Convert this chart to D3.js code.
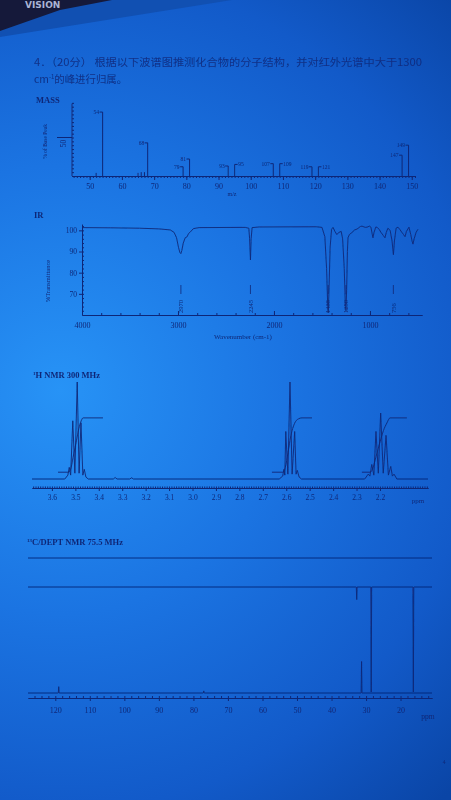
<!DOCTYPE html>
<html>
<head>
<meta charset="utf-8">
<script src="https://cdn.jsdelivr.net/npm/d3@7"></script>
<style>
  html, body { margin: 0; padding: 0; background: #1461d0; }
  svg { display: block; }
</style>
</head>
<body>
<svg id="page" width="451" height="800"></svg>
<script>
// ---- data ----
const questionLine1 = '4．（20分） 根据以下波谱图推测化合物的分子结构，并对红外光谱中大于1300';
const questionLine2 = '的峰进行归属。';

// mass spectrum
const massMz  = [52, 54, 65, 66, 67, 68, 79, 81, 93, 95, 107, 109, 119, 121, 147, 149];
const massPct = [4, 83, 4, 5, 5, 43, 12, 22, 13, 15, 16, 16, 12, 12, 27, 40];
const massLabelMz   = [54, 68, 79, 81, 93, 95, 107, 109, 119, 121, 147, 149];
const massLabelSide = ['L', 'L', 'L', 'L', 'L', 'R', 'L', 'R', 'L', 'R', 'L', 'L'];
const massTicks = [50, 60, 70, 80, 90, 100, 110, 120, 130, 140, 150];

// IR spectrum [wavenumber, %T]
const irTrace = [
  [4000, 101.3], [3700, 101.2], [3400, 101], [3200, 100.7], [3080, 100.2], [3040, 99],
  [3015, 96.5], [2995, 92], [2980, 89.5], [2970, 89], [2960, 90.5], [2945, 94], [2925, 96.5],
  [2905, 97], [2890, 98.5], [2870, 99.3], [2840, 100.8], [2780, 101.3], [2300, 101.4],
  [2262, 101], [2254, 96], [2245, 86], [2238, 96], [2228, 101.3], [2150, 101.6], [1560, 101.7],
  [1500, 101.4], [1470, 97], [1452, 82], [1440, 64], [1435, 61], [1428, 70], [1415, 92],
  [1400, 100.5], [1385, 101.4], [1365, 99.5], [1345, 98], [1325, 99], [1300, 99.5], [1285, 96],
  [1268, 82], [1256, 64], [1250, 62], [1243, 72], [1235, 90], [1229, 96.5], [1215, 98],
  [1187, 99], [1160, 100.2], [1135, 100.6], [1100, 101.8], [1083, 102], [1050, 101.4],
  [1031, 101.5], [1005, 102], [990, 101.5], [978, 98.5], [969, 96.5], [958, 99], [940, 101.5],
  [927, 101.5], [905, 100.5], [885, 99], [860, 97.5], [844, 96.5], [830, 99], [813, 101],
  [790, 100], [770, 95], [756, 88.5], [745, 95], [728, 101], [708, 101.5], [690, 100.5],
  [667, 99], [650, 98], [635, 97], [620, 99.5], [594, 101.5], [575, 98], [562, 95],
  [552, 93.5], [540, 96], [520, 99], [500, 100.5]
];
const irPeakLabels = [2970, 2245, 1435, 1250, 756];
const irXTicks = [4000, 3000, 2000, 1000];
const irYTicks = [100, 90, 80, 70];

// 1H NMR [ppm, intensity]
const h1Triplet35 = [
  [3.545, 0], [3.532, 4], [3.526, 12], [3.520, 4], [3.511, 60], [3.502, 6], [3.492, 100],
  [3.484, 6], [3.476, 58], [3.468, 4], [3.462, 10], [3.455, 2], [3.445, 0]
];
const h1Triplet258 = [
  [2.630, 0], [2.615, 3], [2.610, 10], [2.606, 4], [2.602, 49], [2.593, 5], [2.584, 100],
  [2.575, 5], [2.564, 49], [2.558, 5], [2.553, 9], [2.545, 2], [2.535, 0]
];
const h1Quintet22 = [
  [2.265, 0], [2.250, 5], [2.243, 3], [2.235, 15], [2.226, 4], [2.217, 49], [2.207, 6],
  [2.197, 68], [2.186, 6], [2.174, 45], [2.164, 4], [2.154, 13], [2.147, 3], [2.140, 5], [2.128, 0]
];
const h1Small = [[3.33, 1.5], [3.26, 1.2]];
const h1Integral35  = [[3.574, 7], [3.530, 7], [3.520, 10], [3.510, 22], [3.495, 40], [3.485, 52], [3.475, 60], [3.467, 63], [3.382, 63]];
const h1Integral258 = [[2.661, 7], [2.614, 7], [2.604, 12], [2.592, 28], [2.580, 45], [2.565, 57], [2.548, 62], [2.533, 63], [2.490, 63]];
const h1Integral22  = [[2.277, 7], [2.242, 7], [2.232, 10], [2.218, 22], [2.200, 38], [2.185, 50], [2.170, 58], [2.157, 63], [2.085, 63]];
const h1Ticks = [3.6, 3.5, 3.4, 3.3, 3.2, 3.1, 3.0, 2.9, 2.8, 2.7, 2.6, 2.5, 2.4, 2.3, 2.2];

// 13C / DEPT [ppm, intensity]
const deptNegative = [[32.7, 12], [28.5, 100], [16.3, 100]];
const c13Peaks = [[119, 6], [77, 2], [31.3, 30]];
const c13Ticks = [120, 110, 100, 90, 80, 70, 60, 50, 40, 30, 20];

// ---- page ----
const ink = '#0f2878';
const serif = "'Liberation Serif','DejaVu Serif',serif";
const cjk = "'Noto Sans CJK SC','Noto Sans CJK JP',sans-serif";

const svg = d3.select('#page');
const defs = svg.append('defs');

const paper = defs.append('radialGradient')
  .attr('id', 'paper').attr('gradientUnits', 'userSpaceOnUse')
  .attr('cx', 60).attr('cy', 390).attr('r', 560);
[[0, '#2793f6'], [0.4, '#1b74e2'], [0.75, '#125ac9'], [1, '#0a45a6']]
  .forEach(s => paper.append('stop').attr('offset', s[0]).attr('stop-color', s[1]));

defs.append('filter').attr('id', 'soft')
  .append('feGaussianBlur').attr('stdDeviation', 0.35);

svg.append('rect').attr('width', 451).attr('height', 800).attr('fill', 'url(#paper)');

// photo corner: edge of the page and the camera strip
svg.append('polygon').attr('points', '0,0 232,0 0,37').attr('fill', '#1150b2');
svg.append('polygon').attr('points', '0,0 112,0 60,10 0,31').attr('fill', '#15193a');
svg.append('text').attr('x', 25).attr('y', 8)
  .attr('font-family', 'DejaVu Sans, sans-serif').attr('font-weight', 'bold')
  .attr('font-size', 9).attr('fill', '#aab4d4').text('VISION');

const g = svg.append('g').attr('filter', 'url(#soft)');

function label(x, y, txt, size, opts = {}) {
  return g.append('text')
    .attr('x', x).attr('y', y)
    .attr('font-family', opts.family || serif)
    .attr('font-weight', opts.bold ? 'bold' : 'normal')
    .attr('font-size', size)
    .attr('text-anchor', opts.anchor || 'start')
    .attr('fill', ink)
    .text(txt);
}

function styleAxis(sel, size) {
  sel.selectAll('path.domain').attr('stroke', ink);
  sel.selectAll('line').attr('stroke', ink);
  sel.selectAll('text').attr('fill', ink).attr('font-family', serif).attr('font-size', size);
}

// question text
label(34, 66, questionLine1, 10.4, { family: cjk }).attr('textLength', 388).attr('lengthAdjust', 'spacingAndGlyphs').attr('opacity', 0.85);
const q2 = label(34, 83, '', 10.4, { family: cjk }).attr('opacity', 0.85);
q2.append('tspan').text('cm');
q2.append('tspan').attr('font-size', 6).attr('dy', -4).text('-1');
q2.append('tspan').attr('dy', 4).text(questionLine2);

// ---- MASS ----
label(36, 103, 'MASS', 8.5, { bold: true });
const mx = d3.scaleLinear().domain([44.5, 151]).range([72, 415]);
const my = d3.scaleLinear().domain([0, 100]).range([176, 99]);

g.append('g').attr('transform', 'translate(0,176)')
  .call(d3.axisBottom(mx).tickValues(d3.range(45, 152)).tickSize(2).tickSizeOuter(0).tickFormat(''))
  .call(s => styleAxis(s, 8));
g.append('g').attr('transform', 'translate(0,176)')
  .call(d3.axisBottom(mx).tickValues(massTicks).tickSize(4).tickPadding(3).tickSizeOuter(0))
  .call(s => styleAxis(s, 8));
g.append('g').attr('transform', 'translate(72,0)')
  .call(d3.axisRight(my).tickValues(d3.range(0, 96, 5)).tickSize(2).tickSizeOuter(0).tickFormat(''))
  .call(s => s.select('path.domain').attr('d', `M0,${my(0)}V${my(94)}`))
  .call(s => styleAxis(s, 7));
g.append('line').attr('x1', 57).attr('x2', 72).attr('y1', my(50)).attr('y2', my(50)).attr('stroke', ink);
label(0, 0, '50', 7.5, { anchor: 'middle' })
  .attr('transform', `translate(66,${my(50) + 6}) rotate(-90)`);
label(0, 0, '% of Base Peak', 5.5, { anchor: 'middle' })
  .attr('transform', `translate(47,${my(45)}) rotate(-90)`);
label(232, 196, 'm/z', 6, { anchor: 'middle' });

g.selectAll('line.mpeak').data(massMz).enter().append('line')
  .attr('class', 'mpeak')
  .attr('x1', d => mx(d)).attr('x2', d => mx(d))
  .attr('y1', my(0)).attr('y2', (d, i) => my(massPct[i]))
  .attr('stroke', ink).attr('stroke-width', 1);

massLabelMz.forEach((mz, i) => {
  const pct = massPct[massMz.indexOf(mz)];
  const x = mx(mz), y = my(pct);
  const left = massLabelSide[i] === 'L';
  g.append('line').attr('x1', left ? x - 3 : x).attr('x2', left ? x : x + 3)
    .attr('y1', y).attr('y2', y).attr('stroke', ink);
  label(left ? x - 3.5 : x + 3.5, y + 2, mz, 5.5, { anchor: left ? 'end' : 'start' });
});

// ---- IR ----
label(34, 218, 'IR', 8.5, { bold: true });
const ix = d3.scaleLinear().domain([4000, 458]).range([82, 422]);
const iy = d3.scaleLinear().domain([60, 103]).range([315, 224]);

g.append('g').attr('transform', 'translate(0,315)')
  .call(d3.axisBottom(ix).tickValues(d3.range(3800, 500, -200)).tickSize(-2).tickSizeOuter(0).tickFormat(''))
  .call(s => styleAxis(s, 8));
g.append('g').attr('transform', 'translate(0,315)')
  .call(d3.axisBottom(ix).tickValues(irXTicks).tickSize(-4).tickPadding(7).tickSizeOuter(0).tickFormat(d3.format('d')))
  .call(s => styleAxis(s, 8));
g.append('g').attr('transform', 'translate(82,0)')
  .call(d3.axisRight(iy).tickValues(d3.range(62, 103, 2)).tickSize(2).tickSizeOuter(0).tickFormat(''))
  .call(s => styleAxis(s, 7));
g.append('g').attr('transform', 'translate(82,0)')
  .call(d3.axisLeft(iy).tickValues(irYTicks).tickSize(3).tickPadding(2).tickSizeOuter(0))
  .call(s => s.select('path.domain').remove())
  .call(s => styleAxis(s, 7.5));
label(0, 0, '%Transmittance', 6.5, { anchor: 'middle' })
  .attr('transform', 'translate(50,281) rotate(-90)');
label(243, 339, 'Wavenumber (cm-1)', 7, { anchor: 'middle' });

g.append('path').datum(irTrace)
  .attr('d', d3.line().x(d => ix(d[0])).y(d => iy(d[1])))
  .attr('fill', 'none').attr('stroke', ink).attr('stroke-width', 0.9);

irPeakLabels.forEach(wn => {
  const x = ix(wn);
  g.append('line').attr('x1', x).attr('x2', x).attr('y1', 285).attr('y2', 294).attr('stroke', ink).attr('stroke-width', 0.8);
  label(0, 0, wn, 6.5).attr('transform', `translate(${x + 2.2},313) rotate(-90)`);
});

// ---- 1H NMR ----
const h1Title = label(33, 378, '', 8.5, { bold: true });
h1Title.append('tspan').attr('font-size', 5).attr('dy', -3).text('1');
h1Title.append('tspan').attr('dy', 3).text('H NMR 300 MHz');

const nx = d3.scaleLinear().domain([3.685, 1.995]).range([32, 428]);
const ny = d3.scaleLinear().domain([0, 100]).range([479, 382]);

g.append('g').attr('transform', 'translate(0,488)')
  .call(d3.axisBottom(nx).tickValues(d3.range(200, 369).map(v => v / 100)).tickSize(-1.5).tickSizeOuter(0).tickFormat(''))
  .call(s => styleAxis(s, 7));
g.append('g').attr('transform', 'translate(0,488)')
  .call(d3.axisBottom(nx).tickValues(h1Ticks).tickSize(3).tickPadding(4).tickSizeOuter(0).tickFormat(d3.format('.1f')))
  .call(s => styleAxis(s, 7.5));
label(418, 503, 'ppm', 7, { anchor: 'middle' });

const spikes = (list, w) => list.flatMap(d => [[d[0] + w, 0], [d[0], d[1]], [d[0] - w, 0]]);
const h1Trace = [[3.685, 0]]
  .concat(h1Triplet35, spikes(h1Small, 0.008), h1Triplet258, h1Quintet22, [[1.995, 0]]);
const nmrLine = d3.line().x(d => nx(d[0])).y(d => ny(d[1]));
g.append('path').datum(h1Trace).attr('d', nmrLine)
  .attr('fill', 'none').attr('stroke', ink).attr('stroke-width', 0.9);
const integralLine = d3.line().x(d => nx(d[0])).y(d => ny(d[1])).curve(d3.curveMonotoneX);
[h1Integral35, h1Integral258, h1Integral22].forEach(seg => {
  g.append('path').datum(seg.map(d => [-d[0], d[1]]).map(d => [-d[0], d[1]]))
    .attr('d', integralLine)
    .attr('fill', 'none').attr('stroke', ink).attr('stroke-width', 0.9);
});

// ---- 13C / DEPT ----
const c13Title = label(27, 545, '', 8.5, { bold: true });
c13Title.append('tspan').attr('font-size', 5).attr('dy', -3).text('13');
c13Title.append('tspan').attr('dy', 3).text('C/DEPT NMR 75.5 MHz');

const cx = d3.scaleLinear().domain([127.9, 10.9]).range([28, 432]);
const cInt = d3.scaleLinear().domain([0, 100]).range([0, 105]);

g.append('g').attr('transform', 'translate(0,698)')
  .call(d3.axisBottom(cx).tickValues(d3.range(12, 128, 2)).tickSize(-2).tickSizeOuter(0).tickFormat(''))
  .call(s => styleAxis(s, 8));
g.append('g').attr('transform', 'translate(0,698)')
  .call(d3.axisBottom(cx).tickValues(c13Ticks).tickSize(3).tickPadding(6).tickSizeOuter(0))
  .call(s => styleAxis(s, 8));
label(428, 719, 'ppm', 7.5, { anchor: 'middle' });

function trace(y0, peaks, sign) {
  const pts = [[127.9, 0]].concat(spikes(peaks, 0.12), [[10.9, 0]]);
  g.append('path').datum(pts)
    .attr('d', d3.line().x(d => cx(d[0])).y(d => y0 - sign * cInt(d[1])))
    .attr('fill', 'none').attr('stroke', ink).attr('stroke-width', 0.9);
}
trace(558, [], 1);
trace(587, deptNegative, -1);
trace(693, c13Peaks, 1);

label(444, 764, '4', 5.5, { anchor: 'middle' });
</script>
</body>
</html>
